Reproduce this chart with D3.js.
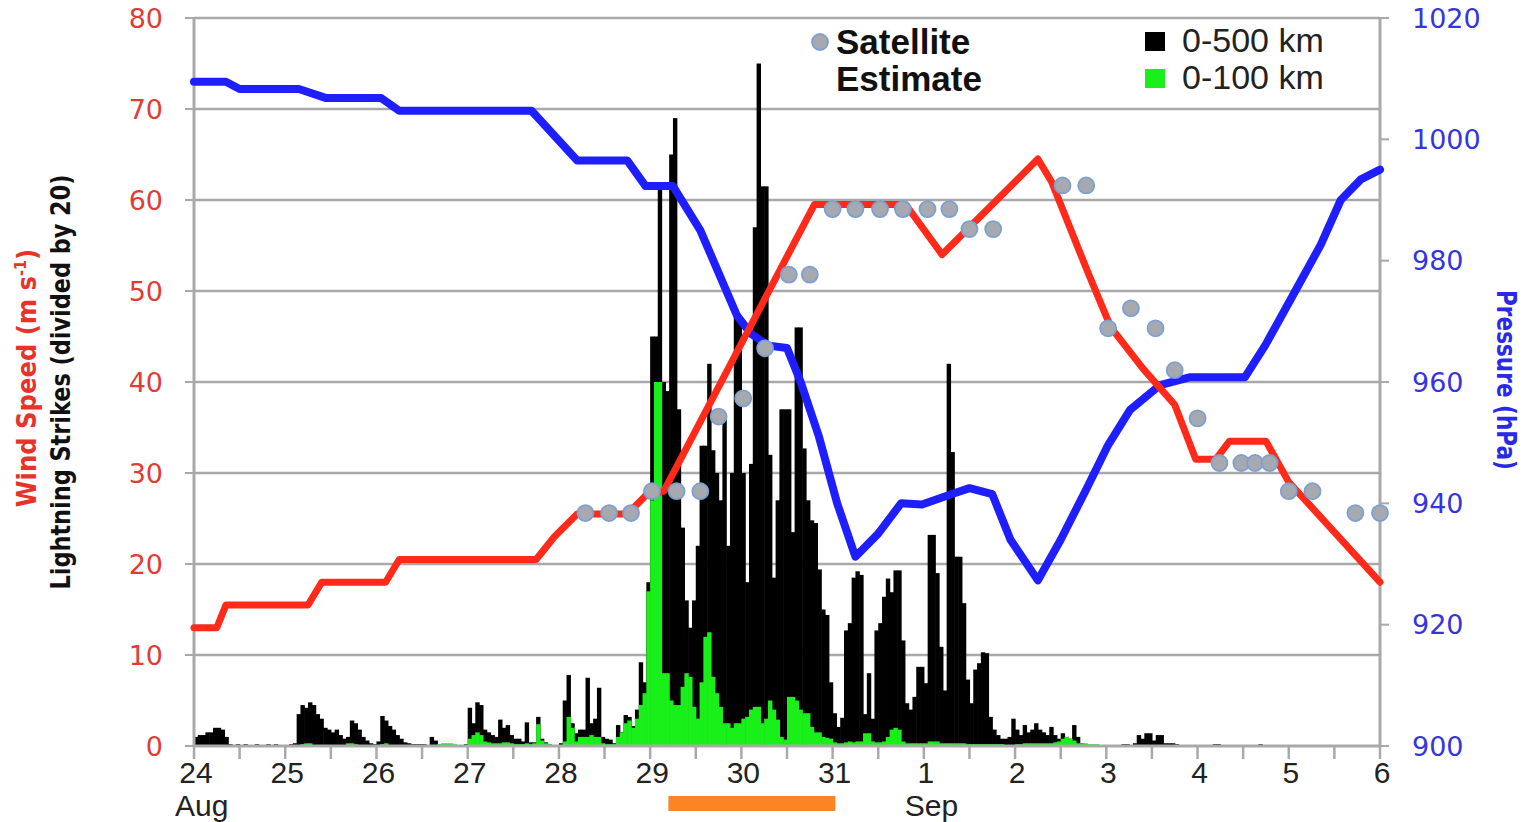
<!DOCTYPE html>
<html>
<head>
<meta charset="utf-8">
<script src="https://cdn.jsdelivr.net/npm/d3@7"></script>
<style>
  html, body { margin: 0; padding: 0; background: #fff; }
  svg { display: block; }
</style>
</head>
<body>
<svg id="chart" width="1524" height="822"></svg>
<script>
// ---------------- DATA ----------------
// x: days since 24 Aug 00 UTC
const dayLabels = ["24","25","26","27","28","29","30","31","1","2","3","4","5","6"];
const monthLabels = [{day: 0, text: "Aug"}, {day: 8, text: "Sep"}];
const windTicks = [0,10,20,30,40,50,60,70,80];
const pressureTicks = [900,920,940,960,980,1000,1020];

// Wind speed (m/s): [day, value]
const windSpeed = [
  [0,13],[0.25,13],[0.35,15.5],[1.25,15.5],[1.4,18],[2.1,18],[2.25,20.5],[3.75,20.5],
  [3.95,23],[4.2,25.5],[4.75,25.5],[4.95,27.5],[5.15,28],[6.8,59.5],[7.8,59.5],[8.2,54],
  [9.25,64.5],[9.4,62],[9.8,52],[10.05,46],[10.4,41.5],[10.75,37.5],[10.98,31.5],[11.2,31.5],
  [11.35,33.5],[11.75,33.5],[12.0,29],[13.0,18]
];

// Central pressure (hPa): [day, value]
const pressure = [
  [0,1009.5],[0.35,1009.5],[0.5,1008.3],[1.15,1008.3],[1.45,1006.8],[2.05,1006.8],[2.25,1004.7],
  [3.7,1004.7],[4.2,996.5],[4.75,996.5],[4.95,992.3],[5.25,992.3],[5.55,985],[5.95,971],
  [6.1,968],[6.3,966],[6.5,965.6],[6.65,960],[6.85,951],[7.05,940],[7.25,931.2],[7.5,935],
  [7.75,940],[7.98,939.8],[8.3,941.5],[8.5,942.5],[8.75,941.5],[8.95,934],[9.25,927.3],
  [9.5,934],[9.77,942],[10.02,949.6],[10.26,955.4],[10.59,959.5],[10.92,960.8],[11.52,960.8],
  [11.74,966],[12.02,973.6],[12.35,982.6],[12.57,990],[12.79,993.4],[13.0,995]
];

// Satellite intensity estimates (m/s): [day, value]
const satellite = [
  [4.29,25.6],[4.55,25.6],[4.79,25.6],[5.02,28],[5.29,28],[5.55,28],[5.75,36.2],[6.02,38.2],
  [6.26,43.7],[6.52,51.8],[6.75,51.8],[7.0,59],[7.25,59],[7.52,59],[7.77,59],[8.04,59],[8.28,59],
  [8.5,56.8],[8.76,56.8],[9.52,61.6],[9.78,61.6],[10.02,45.9],[10.27,48.1],[10.54,45.9],
  [10.75,41.3],[11.0,36],[11.24,31.1],[11.48,31.1],[11.63,31.1],[11.79,31.1],[12.0,28],
  [12.26,28],[12.73,25.6],[13.0,25.6]
];

// Hourly lightning strikes (divided by 20), one row of 24 hours per day
const strikes500 = [
  /* Aug 24 */ [1,1.2,1.2,1.5,1.5,2,2,1.8,1,0.2,0.1,0.2,0.1,0.2,0.1,0.1,0.2,0.1,0.1,0.2,0.1,0.2,0.1,0.1],
  /* Aug 25 */ [0.1,0.2,0.3,3.5,4.5,4.2,4.8,4.5,3.5,3.0,2.0,1.8,1.5,1.8,1.2,0.8,1.0,2.8,2.5,1.8,1.0,0.6,0.3,0.2],
  /* Aug 26 */ [0.5,3.3,2.8,2.2,1.8,1.2,0.8,0.4,0.3,0.2,0.2,0.2,0.2,0.1,1.0,0.6,0.2,0.1,0.2,0.2,0.1,0.1,0.1,0.2],
  /* Aug 27 */ [4.2,2.5,4.8,4.5,1.8,1.5,1.2,1.0,2.9,2.0,2.3,1.2,0.8,0.8,0.5,2.6,0.4,0.4,3.2,0.8,0.4,0.2,0.1,0.1],
  /* Aug 28 */ [0.3,5.0,7.8,2.5,1.4,1.8,1.8,7.5,2.5,3.0,6.4,1.0,0.8,0.7,0.3,2.3,1.5,3.4,3.2,2.2,4.0,9.2,7.0,18],
  /* Aug 29 */ [45,45,61.5,40,39,65,69,37,24,16,13,16,22,33,33,42,32.5,30,27,36,22,30,48,47],
  /* Aug 30 */ [30,18,31,57,75,61.5,61.5,32,18.5,27,37,37,37,23.5,46,46,32.7,27,24.8,24.5,19.4,15,14.4,7],
  /* Aug 31 */ [3.6,2.1,3.1,12.7,13.5,18.5,19.2,18.8,3.5,8,3,12.7,13.5,16.4,18.4,16.9,19.3,19.3,11.6,4.7,4,5.4,8.7,8.7],
  /* Sep 1  */ [6.9,23.2,23.2,19,10.9,6.1,42,32.3,20.8,20.8,15.7,7.3,4.7,8.4,9.1,10.3,10.2,3.2,1.8,1.2,0.8,0.8,1.0,3.0],
  /* Sep 2  */ [1.8,1.2,2.3,1.5,1.8,2.5,1.8,1.5,1.2,2.1,1.2,0.8,1.4,1.0,0.8,2.3,1.0,0.3,0.2,0.1,0.1,0.1,0.1,0.1],
  /* Sep 3  */ [0.1,0.1,0,0,0.2,0.2,0,0.3,1.2,0.8,1.4,1.4,0.6,1.2,1.2,0.3,0.3,0.3,0.2,0.1,0,0,0,0],
  /* Sep 4  */ [0,0,0,0,0.2,0.2,0,0,0,0,0.1,0,0,0,0,0.1,0.2,0,0,0,0,0,0,0],
  /* Sep 5  */ [0,0,0,0,0,0,0,0,0,0,0,0,0,0,0,0,0,0,0,0,0,0,0,0]
];
const strikes100 = [
  /* Aug 24 */ [0,0,0,0,0,0,0,0,0,0,0,0,0,0,0,0,0,0,0,0,0,0,0,0],
  /* Aug 25 */ [0,0,0,0,0.2,0.3,0.3,0.1,0,0,0.1,0,0,0,0,0.1,0.3,0.3,0.2,0,0,0,0,0],
  /* Aug 26 */ [0,0.2,0.3,0.1,0,0,0,0,0,0,0,0,0,0,0,0,0.2,0.3,0.3,0.3,0.2,0,0,0],
  /* Aug 27 */ [0.8,1.2,1.5,1.2,0.5,0.4,0.3,0.3,0.3,0.4,0.4,0.3,0.2,0.2,0.2,0.3,0.2,0.3,2.4,0.6,0.3,0.2,0,0],
  /* Aug 28 */ [0,0.5,3.2,2.0,0.5,1,1,1,1.2,1,1,0.3,0.2,0.2,0.2,1,1.5,2.5,2.8,2,3,4.5,5.8,17],
  /* Aug 29 */ [27,40,40,8,8,5,4.5,4.5,6.5,8,7.6,4.3,3,7,12,12.5,7.6,5.8,4.3,2.5,2.5,2,2.5,2.5],
  /* Aug 30 */ [3,3.2,4,4.3,4.3,2.5,3,5,4,2.9,1,0.7,5.4,5.4,5,4,3.6,3.6,2.1,1.5,1.5,1,0.9,0.8],
  /* Aug 31 */ [0.4,0.3,0.3,0.4,0.5,0.4,0.5,0.5,1.4,1.4,0.5,0.4,0.4,0.5,1,1.8,2,1.8,0.5,0.3,0.3,0.3,0.3,0.3],
  /* Sep 1  */ [0.3,0.5,0.5,0.5,0.3,0.3,0.3,0.3,0.3,0.3,0.3,0.2,0.2,0.2,0.2,0.2,0.2,0.2,0.2,0.2,0.2,0.1,0.1,0.1],
  /* Sep 2  */ [0.2,0.2,0.3,0.3,0.3,0.3,0.3,0.3,0.3,0.3,0.4,0.5,0.8,1.0,0.8,0.6,0.3,0.3,0.3,0.2,0.2,0.2,0.1,0.1],
  /* Sep 3  */ [0.1,0.1,0,0,0.1,0.1,0,0,0,0,0,0,0,0,0,0,0,0,0,0,0,0,0,0],
  /* Sep 4  */ [0,0,0,0,0,0,0,0,0,0,0,0,0,0,0,0,0,0,0,0,0,0,0,0],
  /* Sep 5  */ [0,0,0,0,0,0,0,0,0,0,0,0,0,0,0,0,0,0,0,0,0,0,0,0]
];

// Highlighted period (days since 24 Aug) shown by the orange bar under the axis
const rapidPeriod = [5.2, 7.03];

// ---------------- DRAWING ----------------
const svg = d3.select("#chart");
const L = 194, R = 1380, T = 18, B = 746;

const x = d3.scaleLinear().domain([0, 13]).range([L, R]);
const yL = d3.scaleLinear().domain([0, 80]).range([B, T]);
const yP = d3.scaleLinear().domain([900, 1020]).range([B, T]);

const gridColor = "#a9a9a9";
const red = "#ff2a1a", blue = "#1e1eff";

// gridlines
svg.append("g").selectAll("line").data(windTicks.filter(d => d > 0)).join("line")
  .attr("x1", L).attr("x2", R).attr("y1", d => yL(d)).attr("y2", d => yL(d))
  .attr("stroke", gridColor).attr("stroke-width", 2.5);

// lightning bars
const h500 = strikes500.flat();
const h100 = strikes100.flat();
const bw = x(1/24) - x(0);
svg.append("g").selectAll("rect").data(h500).join("rect")
  .attr("x", (d, i) => x(i / 24)).attr("width", bw + 0.6)
  .attr("y", d => yL(d)).attr("height", d => yL(0) - yL(d))
  .attr("fill", "#000");
svg.append("g").selectAll("rect").data(h100).join("rect")
  .attr("x", (d, i) => x(i / 24)).attr("width", bw + 0.6)
  .attr("y", d => yL(d)).attr("height", d => yL(0) - yL(d))
  .attr("fill", "#19f019");

// axes lines
const axisG = svg.append("g");
axisG.append("line").attr("x1", L).attr("x2", L).attr("y1", T).attr("y2", B + 1)
  .attr("stroke", gridColor).attr("stroke-width", 3);
axisG.append("line").attr("x1", R).attr("x2", R).attr("y1", T).attr("y2", B + 1)
  .attr("stroke", gridColor).attr("stroke-width", 3);
axisG.append("line").attr("x1", L).attr("x2", R).attr("y1", B).attr("y2", B)
  .attr("stroke", gridColor).attr("stroke-width", 3);

// left ticks + labels
axisG.selectAll(".lt").data(windTicks).join("line")
  .attr("x1", L - 9).attr("x2", L).attr("y1", d => yL(d)).attr("y2", d => yL(d))
  .attr("stroke", gridColor).attr("stroke-width", 2);
axisG.selectAll(".ll").data(windTicks).join("text")
  .attr("x", 163).attr("y", d => yL(d)).attr("dy", "0.36em")
  .attr("text-anchor", "end")
  .attr("font-family", "'DejaVu Sans', Verdana, sans-serif").attr("font-size", 27)
  .attr("fill", "#e23b36").text(d => d);

// right ticks + labels
axisG.selectAll(".rt").data(pressureTicks).join("line")
  .attr("x1", R).attr("x2", R + 9).attr("y1", d => yP(d)).attr("y2", d => yP(d))
  .attr("stroke", gridColor).attr("stroke-width", 2);
axisG.selectAll(".rl").data(pressureTicks).join("text")
  .attr("x", 1412).attr("y", d => yP(d)).attr("dy", "0.36em")
  .attr("text-anchor", "start")
  .attr("font-family", "'DejaVu Sans', Verdana, sans-serif").attr("font-size", 27)
  .attr("fill", "#3535e0").text(d => d);

// bottom ticks (every half day) + labels
const halfDays = d3.range(0, 13.01, 0.5);
axisG.selectAll(".bt").data(halfDays).join("line")
  .attr("x1", d => x(d)).attr("x2", d => x(d)).attr("y1", B).attr("y2", B + 13)
  .attr("stroke", gridColor).attr("stroke-width", 2.5);
axisG.selectAll(".bl").data(dayLabels).join("text")
  .attr("x", (d, i) => x(i) + 2).attr("y", 783)
  .attr("text-anchor", "middle")
  .attr("font-family", "'Liberation Sans', Arial, sans-serif").attr("font-size", 30)
  .attr("fill", "#222").text(d => d);
axisG.selectAll(".ml").data(monthLabels).join("text")
  .attr("x", d => x(d.day) - 19).attr("y", 816)
  .attr("text-anchor", "start")
  .attr("font-family", "'Liberation Sans', Arial, sans-serif").attr("font-size", 30)
  .attr("fill", "#222").text(d => d.text);

// orange period bar
svg.append("rect")
  .attr("x", x(rapidPeriod[0])).attr("width", x(rapidPeriod[1]) - x(rapidPeriod[0]))
  .attr("y", 796).attr("height", 15).attr("fill", "#fb8424");

// pressure line
const lineP = d3.line().x(d => x(d[0])).y(d => yP(d[1]));
svg.append("path").datum(pressure).attr("d", lineP)
  .attr("fill", "none").attr("stroke", blue).attr("stroke-width", 8)
  .attr("stroke-linejoin", "round").attr("stroke-linecap", "round");

// wind line
const lineW = d3.line().x(d => x(d[0])).y(d => yL(d[1]));
svg.append("path").datum(windSpeed).attr("d", lineW)
  .attr("fill", "none").attr("stroke", red).attr("stroke-width", 7)
  .attr("stroke-linejoin", "round").attr("stroke-linecap", "round");

// satellite points
svg.append("g").selectAll("circle").data(satellite).join("circle")
  .attr("cx", d => x(d[0])).attr("cy", d => yL(d[1])).attr("r", 8)
  .attr("fill", "#a6a9b0").attr("stroke", "#7d9fd2").attr("stroke-width", 1.8);

// legend
const lg = svg.append("g").attr("font-family", "'Liberation Sans', Arial, sans-serif");
lg.append("circle").attr("cx", 820).attr("cy", 42).attr("r", 8)
  .attr("fill", "#a6a9b0").attr("stroke", "#7d9fd2").attr("stroke-width", 1.8);
lg.append("text").attr("x", 836).attr("y", 54).attr("font-size", 35).attr("font-weight", "bold")
  .attr("fill", "#111").text("Satellite");
lg.append("text").attr("x", 836).attr("y", 91).attr("font-size", 35).attr("font-weight", "bold")
  .attr("fill", "#111").text("Estimate");
lg.append("rect").attr("x", 1145).attr("y", 32).attr("width", 20).attr("height", 19).attr("fill", "#000");
lg.append("rect").attr("x", 1145).attr("y", 69).attr("width", 20).attr("height", 19).attr("fill", "#19f019");
lg.append("text").attr("x", 1182).attr("y", 52).attr("font-size", 34).attr("fill", "#222").text("0-500 km");
lg.append("text").attr("x", 1182).attr("y", 89).attr("font-size", 34).attr("fill", "#222").text("0-100 km");

// axis titles
const condFont = "'Liberation Sans Narrow', 'DejaVu Sans Condensed', 'Arial Narrow', sans-serif";
const wt = svg.append("text")
  .attr("transform", "translate(36,378) rotate(-90)")
  .attr("text-anchor", "middle").attr("font-family", condFont)
  .attr("font-size", 27).attr("font-weight", "bold").attr("fill", "#e8322a");
wt.append("tspan").text("Wind Speed (m s");
wt.append("tspan").attr("dy", -10).attr("font-size", 16).text("-1");
wt.append("tspan").attr("dy", 10).text(")");

svg.append("text")
  .attr("transform", "translate(70,382) rotate(-90)")
  .attr("text-anchor", "middle").attr("font-family", condFont)
  .attr("font-size", 27).attr("font-weight", "bold").attr("fill", "#111")
  .attr("textLength", 415).attr("lengthAdjust", "spacingAndGlyphs")
  .text("Lightning Strikes (divided by 20)");

svg.append("text")
  .attr("transform", "translate(1497,380) rotate(90)")
  .attr("text-anchor", "middle").attr("font-family", condFont)
  .attr("font-size", 26).attr("font-weight", "bold").attr("fill", "#2a2ae6")
  .attr("textLength", 180).attr("lengthAdjust", "spacingAndGlyphs")
  .text("Pressure (hPa)");
</script>
</body>
</html>
